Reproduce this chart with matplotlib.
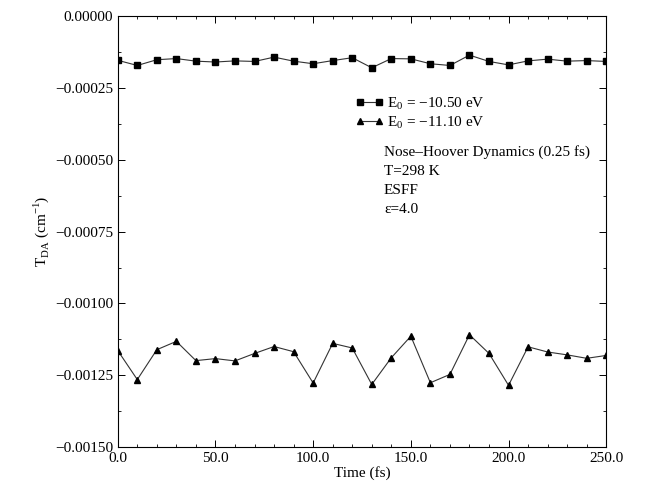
import matplotlib
matplotlib.use("Agg")
import matplotlib.pyplot as plt
from matplotlib.ticker import MultipleLocator, FuncFormatter

plt.rcParams['font.family'] = ['Liberation Serif', 'DejaVu Serif']
plt.rcParams['mathtext.fontset'] = 'custom'
plt.rcParams['mathtext.rm'] = 'Liberation Serif'

time_fs = [0, 10, 20, 30, 40, 50, 60, 70, 80, 90, 100, 110, 120, 130, 140, 150,
           160, 170, 180, 190, 200, 210, 220, 230, 240, 250]
t_da_1050 = [-0.000154, -0.000172, -0.000152, -0.000148, -0.000157, -0.000160,
             -0.000156, -0.000158, -0.000143, -0.000157, -0.000166, -0.000155,
             -0.000145, -0.000180, -0.000148, -0.000149, -0.000166, -0.000172,
             -0.000136, -0.000158, -0.000170, -0.000156, -0.000150, -0.000157,
             -0.000155, -0.000158]
t_da_1110 = [-0.001164, -0.001265, -0.001161, -0.001132, -0.001199, -0.001192,
             -0.001200, -0.001174, -0.001150, -0.001168, -0.001277, -0.001139,
             -0.001155, -0.001282, -0.001189, -0.001114, -0.001276, -0.001247,
             -0.001109, -0.001174, -0.001285, -0.001151, -0.001169, -0.001179,
             -0.001191, -0.001181]
labels = ["E$_0$ = \u221210.50 eV", "E$_0$ = \u221211.10 eV"]
info_lines = ["Nose\u2013Hoover Dynamics (0.25 fs)", "T=298 K", "ESFF", "\u03b5=4.0"]

fig = plt.figure(figsize=(6.47, 4.86), dpi=100)
ax = fig.add_axes([0.182, 0.080, 0.755, 0.887])

ax.plot(time_fs, t_da_1050, color='#333333', lw=0.8, marker='s', ms=4.5,
        mfc='black', mec='black', label=labels[0])
ax.plot(time_fs, t_da_1110, color='#333333', lw=0.8, marker='^', ms=5,
        mfc='black', mec='black', label=labels[1])

ax.set_xlim(0, 250)
ax.set_ylim(-0.0015, 0.0)
ax.xaxis.set_major_locator(MultipleLocator(50))
ax.xaxis.set_minor_locator(MultipleLocator(10))
ax.yaxis.set_major_locator(MultipleLocator(0.00025))
ax.yaxis.set_minor_locator(MultipleLocator(0.000125))
ax.xaxis.set_major_formatter(FuncFormatter(lambda v, p: f"{v:.1f}"))
ax.yaxis.set_major_formatter(FuncFormatter(
    lambda v, p: ("\u2212" if v < -1e-12 else "") + f"{abs(v):.5f}"))

ax.tick_params(which='both', direction='in', top=True, right=True, labelsize=11)
ax.tick_params(which='major', length=5, width=0.7)
ax.tick_params(which='minor', length=2.5, width=0.6)
for s in ax.spines.values():
    s.set_linewidth(0.8)

ax.set_xlabel("Time (fs)", fontsize=11, labelpad=1)
ax.set_ylabel("T$_{\\mathrm{DA}}$ (cm$^{-1}$)", fontsize=11, labelpad=3)

leg = ax.legend(loc='upper left', bbox_to_anchor=(0.47, 0.834), frameon=False,
                fontsize=11, numpoints=2, handlelength=1.9, handletextpad=0.2,
                labelspacing=0.18, borderpad=0)

for i, line in enumerate(info_lines):
    ax.text(0.545, 0.684 - i * 0.044, line, transform=ax.transAxes,
            fontsize=11, va='center', ha='left')

fig.savefig("out.png", dpi=100)
